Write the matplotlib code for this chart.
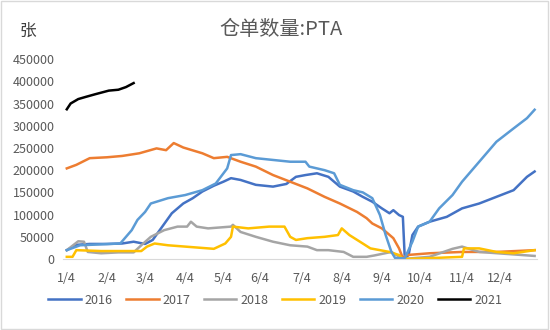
import matplotlib
matplotlib.use("Agg")
import matplotlib.pyplot as plt

plt.rcParams['font.family'] = ['Noto Sans CJK SC', 'DejaVu Sans']

# x = trading-day index from 1/4
tick_pos = [0, 21, 41, 62, 82, 101, 123, 144, 165, 185, 207, 227]
tick_labels = ['1/4', '2/4', '3/4', '4/4', '5/4', '6/4', '7/4', '8/4', '9/4', '10/4', '11/4', '12/4']

x2016 = [0, 5, 12, 21, 29, 35, 41, 45, 50, 55, 61, 66, 71, 77, 82, 86, 91, 99, 108, 115, 120, 125,
         131, 137, 143, 150, 155, 160, 165, 169, 171, 174, 176, 177, 179, 181, 184, 190, 199, 207,
         216, 225, 234, 241, 245]
y2016 = [20000, 32000, 34000, 34000, 35000, 39000, 34000, 43000, 73000, 103000, 125000, 137000,
         152000, 165000, 174000, 182000, 178000, 167000, 163000, 169000, 185000, 189000, 193000,
         185000, 163000, 152000, 140000, 129000, 114000, 103000, 110000, 99000, 95000, 2000, 9000,
         54000, 73000, 84000, 95000, 114000, 125000, 140000, 155000, 185000, 197000]

x2017 = [0, 5, 12, 21, 29, 38, 47, 52, 56, 61, 71, 77, 84, 91, 99, 108, 117, 126, 135, 143, 152,
         157, 160, 165, 171, 174, 176, 178, 190, 207, 225, 245]
y2017 = [204000, 212000, 227000, 229000, 232000, 238000, 249000, 245000, 261000, 251000, 238000,
         227000, 230000, 219000, 208000, 189000, 174000, 159000, 140000, 125000, 106000, 92000,
         80000, 69000, 47000, 24000, 2000, 9000, 13000, 16000, 16000, 20000]

x2018 = [0, 6, 9, 11, 18, 27, 35, 39, 44, 51, 58, 63, 65, 68, 74, 86, 87, 91, 99, 108, 117, 126,
         131, 137, 145, 150, 157, 161, 170, 176, 190, 202, 207, 216, 245]
y2018 = [20000, 40000, 39000, 16000, 13000, 15000, 15000, 31000, 50000, 65000, 73000, 73000, 84000,
         73000, 69000, 73000, 77000, 61000, 50000, 39000, 31000, 28000, 20000, 20000, 16000, 5000,
         5000, 8000, 16000, 0, 5000, 23000, 28000, 16000, 7000]

x2019 = [0, 3, 5, 18, 27, 39, 42, 46, 53, 62, 71, 77, 83, 86, 87, 95, 106, 114, 117, 120, 126, 135,
         142, 144, 148, 155, 159, 169, 174, 176, 190, 207, 208, 216, 225, 234, 245]
y2019 = [5000, 5000, 20000, 18000, 18000, 18000, 28000, 35000, 31000, 28000, 25000, 23000, 35000,
         50000, 73000, 69000, 73000, 73000, 50000, 43000, 47000, 50000, 54000, 69000, 54000, 35000,
         24000, 16000, 9000, 0, 2000, 5000, 24000, 24000, 16000, 13000, 20000]

x2020 = [0, 7, 28, 34, 37, 41, 44, 53, 62, 71, 78, 84, 86, 91, 99, 108, 117, 125, 127, 135, 140,
         143, 150, 155, 160, 164, 167, 170, 172, 177, 181, 184, 190, 195, 202, 207, 216, 225, 234,
         241, 245]
y2020 = [20000, 31000, 35000, 65000, 88000, 106000, 125000, 137000, 144000, 155000, 170000, 204000,
         234000, 236000, 227000, 223000, 219000, 219000, 208000, 200000, 193000, 167000, 155000,
         150000, 137000, 99000, 54000, 16000, 2000, 2000, 39000, 73000, 84000, 114000, 144000,
         174000, 219000, 264000, 294000, 317000, 336000]

x2021 = [0, 2, 6, 10, 15, 22, 27, 31, 35]
y2021 = [337000, 350000, 360000, 365000, 371000, 379000, 381000, 387000, 396000]

series = [
    ('2016', x2016, y2016, '#4472C4'),
    ('2017', x2017, y2017, '#ED7D31'),
    ('2018', x2018, y2018, '#A5A5A5'),
    ('2019', x2019, y2019, '#FFC000'),
    ('2020', x2020, y2020, '#5B9BD5'),
    ('2021', x2021, y2021, '#000000'),
]

fig = plt.figure(figsize=(5.5, 3.3), dpi=100)
ax = fig.add_axes([0.1145, 0.215, 0.861, 0.606])

for name, xs, ys, c in series:
    ax.plot(xs, ys, color=c, lw=1.8, label=name, solid_joinstyle='round')

ax.set_xlim(-2, 246)
ax.set_ylim(0, 450000)
ax.set_yticks(range(0, 450001, 50000))
ax.set_xticks(tick_pos)
ax.set_xticklabels(tick_labels)
ax.tick_params(axis='both', length=0, labelsize=9, colors='#595959', pad=6)
ax.tick_params(axis='x', pad=9)
for s in ['top', 'right', 'left']:
    ax.spines[s].set_visible(False)
ax.spines['bottom'].set_color('#D9D9D9')

fig.text(0.51, 0.91, '仓单数量:PTA', ha='center', va='center', fontsize=14.5, color='#595959')
fig.text(0.035, 0.905, '张', ha='left', va='center', fontsize=12, color='#404040')

ax.legend(loc='center', bbox_to_anchor=(0.5, 0.09), bbox_transform=fig.transFigure, ncol=6,
          frameon=False, fontsize=9, handlelength=2.6, columnspacing=1.1, handletextpad=0.3,
          labelcolor='#595959')

fig.patches.append(plt.Rectangle((0.002, 0.003), 0.995, 0.993, transform=fig.transFigure,
                                 fill=False, edgecolor='#D9D9D9', lw=1))

fig.savefig('out.png', dpi=100)
